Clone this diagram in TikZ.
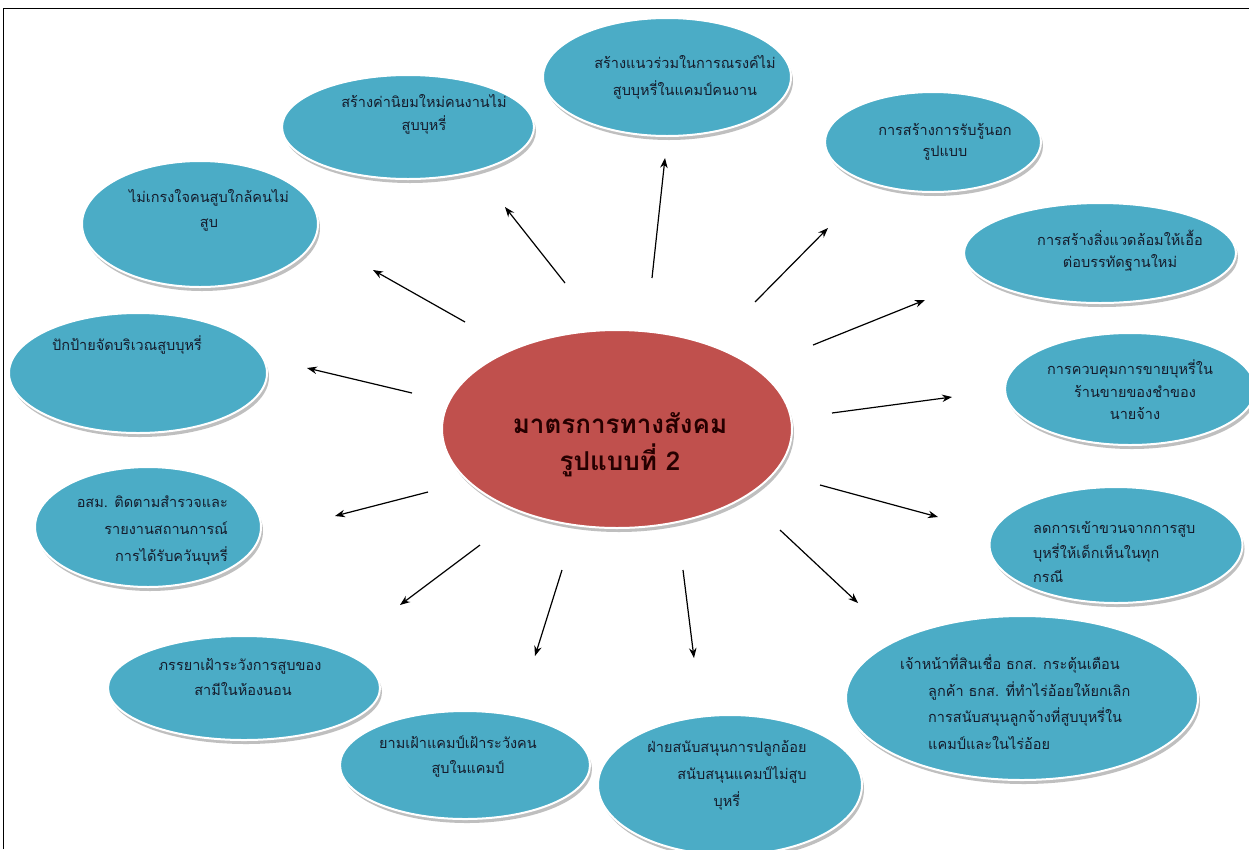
\documentclass[tikz,border=0pt]{standalone}
\usepackage{fontspec}
\newfontfamily\thaifont[Script=Thai]{Loma}
\usetikzlibrary{arrows.meta,shapes.geometric}
\definecolor{bub}{HTML}{4BACC6}
\definecolor{hub}{HTML}{C0504D}
\definecolor{txt}{HTML}{151C2C}
\tikzset{
  bubble/.style={ellipse, fill=bub, draw=white, line width=2pt, inner sep=0pt},
  hubshape/.style={ellipse, fill=hub, draw=white, line width=2pt, inner sep=0pt},
  shadeshape/.style={ellipse, fill=black!45, inner sep=0pt, opacity=0.55},
  lbl/.style={font=\thaifont\fontsize{14.5}{25}\selectfont, text=txt, inner sep=0pt, align=center},
  hublbl/.style={font=\thaifont\bfseries\fontsize{26}{37}\selectfont, text=black!85!red, inner sep=0pt, align=center},
  arr/.style={-{Stealth[length=10pt,width=7.5pt]}, line width=1.2pt, black},
  frameline/.style={black, line width=0.8pt},
}
\newcommand\mybubble[6]{%
  \node[shadeshape, minimum width=#4pt, minimum height=#5pt] (#1s) at (#2+2,#3+4) {};
  \node[#6, minimum width=#4pt, minimum height=#5pt] (#1) at (#2,#3) {};
}
\begin{document}
\begin{tikzpicture}[x=1pt,y=-1pt]
\useasboundingbox (0,0) rectangle (1249,849);
\fill[white] (0,0) rectangle (1249,849);
\coordinate (fa) at (3,849);
\coordinate (fb) at (3,8);
\coordinate (fc) at (1249,8);
\draw[frameline] (fa) -- (fb) -- (fc);

% bubbles
\mybubble{e1}{667}{77}{248}{118}{bubble}
\mybubble{e2}{408}{127}{252}{104}{bubble}
\mybubble{e3}{933}{142}{216}{100}{bubble}
\mybubble{e4}{200}{224}{236}{126}{bubble}
\mybubble{e5}{1100}{253}{272}{100}{bubble}
\mybubble{e6}{138}{373}{258}{120}{bubble}
\mybubble{e7}{1130}{389}{250}{112}{bubble}
\mybubble{e9}{148}{527}{226}{120}{bubble}
\mybubble{e10}{1116}{545}{253}{116}{bubble}
\mybubble{e11}{244}{688}{272}{104}{bubble}
\mybubble{e12}{465}{765}{250}{108}{bubble}
\mybubble{e13}{730}{785}{264}{140}{bubble}
\mybubble{e14}{1022}{698}{352}{164}{bubble}
\mybubble{hub}{617}{429}{350}{198}{hubshape}

% labels
\node[lbl, font=\thaifont\fontsize{14.5}{27}\selectfont] (t1) at (685,77) {สร้างแนวร่วมในการณรงค์ไม่\\สูบบุหรี่ในแคมป์คนงาน};
\node[lbl, font=\thaifont\fontsize{14.5}{23}\selectfont] (t2) at (424,114) {สร้างค่านิยมใหม่คนงานไม่\\สูบบุหรี่};
\node[lbl, font=\thaifont\fontsize{14.5}{21}\selectfont] (t3) at (945,142) {การสร้างการรับรู้นอก\\รูปแบบ};
\node[lbl] (t4) at (209,210) {ไม่เกรงใจคนสูบใกล้คนไม่\\สูบ};
\node[lbl, font=\thaifont\fontsize{14.5}{22}\selectfont] (t5) at (1120,251) {การสร้างสิ่งแวดล้อมให้เอื้อ\\ต่อบรรทัดฐานใหม่};
\node[lbl] (t6) at (127,345) {ปักป้ายจัดบริเวณสูบบุหรี่};
\node[lbl, font=\thaifont\fontsize{14.5}{22.5}\selectfont] (t7) at (1130,390) {การควบคุมการขายบุหรี่ใน\\\hspace*{10pt}ร้านขายของชำของ\\\hspace*{10pt}นายจ้าง};
\node[lbl, font=\thaifont\fontsize{14.5}{27}\selectfont, align=right, anchor=east] (t9) at (228,530) {อสม. ติดตามสำรวจและ\\รายงานสถานการณ์\\การได้รับควันบุหรี่};
\node[lbl, font=\thaifont\fontsize{14.5}{24.5}\selectfont, align=left, anchor=west] (t10) at (1033,552) {ลดการเข้าขวนจากการสูบ\\บุหรี่ให้เด็กเห็นในทุก\\กรณี};
\node[lbl] (t11) at (240,677) {ภรรยาเฝ้าระวังการสูบของ\\\hspace*{6pt}สามีในห้องนอน};
\node[lbl] (t12) at (458,757) {ยามเฝ้าแคมป์เฝ้าระวังคน\\\hspace*{20pt}สูบในแคมป์};
\node[lbl, font=\thaifont\fontsize{14.5}{27}\selectfont] (t13) at (727,775) {ฝ่ายสนับสนุนการปลูกอ้อย\\\hspace*{30pt}สนับสนุนแคมป์ไม่สูบ\\บุหรี่};
\node[lbl, font=\thaifont\fontsize{14.5}{26.5}\selectfont, align=left, anchor=west] (t14) at (900,702) {เจ้าหน้าที่สินเชื่อ ธกส. กระตุ้นเตือน\\\hspace*{28pt}ลูกค้า ธกส. ที่ทำไร่อ้อยให้ยกเลิก\\\hspace*{28pt}การสนับสนุนลูกจ้างที่สูบบุหรี่ใน\\\hspace*{28pt}แคมป์และในไร่อ้อย};
\node[hublbl] (thub) at (620,445) {มาตรการทางสังคม\\รูปแบบที่ 2};

% arrows
\coordinate (s1) at (652,278);  \coordinate (d1) at (665,158);
\coordinate (s2) at (565,283);  \coordinate (d2) at (505,207);
\coordinate (s3) at (755,302);  \coordinate (d3) at (828,228);
\coordinate (s4) at (465,322);  \coordinate (d4) at (373,270);
\coordinate (s5) at (813,345);  \coordinate (d5) at (925,300);
\coordinate (s6) at (412,393);  \coordinate (d6) at (307,368);
\coordinate (s7) at (832,413);  \coordinate (d7) at (952,397);
\coordinate (s9) at (428,492);  \coordinate (d9) at (335,516);
\coordinate (s10) at (820,485); \coordinate (d10) at (938,517);
\coordinate (s11) at (480,545); \coordinate (d11) at (400,605);
\coordinate (s12) at (562,570); \coordinate (d12) at (535,656);
\coordinate (s13) at (683,570); \coordinate (d13) at (694,658);
\coordinate (s14) at (780,530); \coordinate (d14) at (858,603);
\foreach \i in {1,2,3,4,5,6,7,9,10,11,12,13,14}{
  \draw[arr] (s\i) -- (d\i);
}
\end{tikzpicture}
\end{document}
